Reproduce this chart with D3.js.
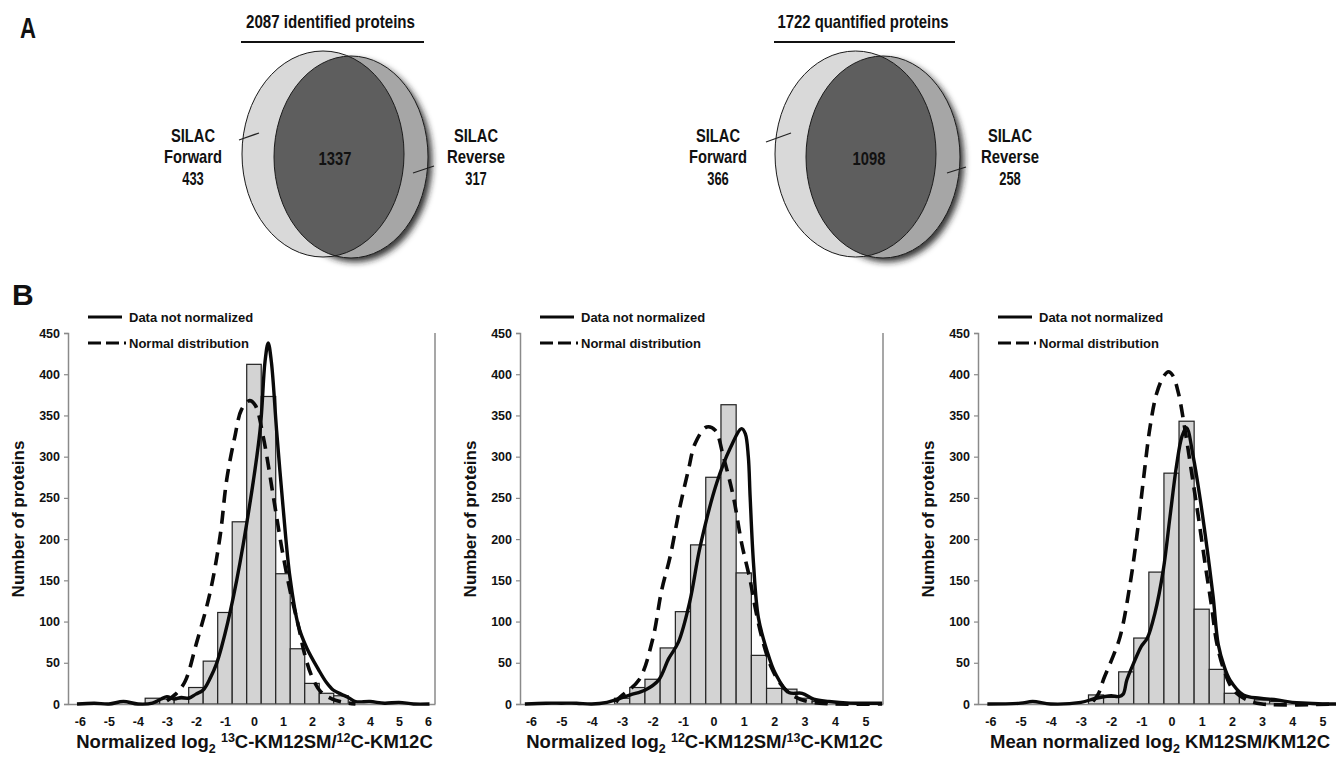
<!DOCTYPE html>
<html><head><meta charset="utf-8">
<script src="https://cdn.jsdelivr.net/npm/d3@7/dist/d3.min.js"></script>
<style>
body{margin:0;background:#fff}
svg{display:block}
text{font-family:"Liberation Sans",Arial,Helvetica,sans-serif;font-weight:bold;fill:#111}
</style>
</head><body>
<svg id="c" width="1336" height="764"></svg>
<script>
// ---------- DATA ----------
const vennTitles = ["2087 identified proteins", "1722 quantified proteins"];
const vennForward = [433, 366];
const vennReverse = [317, 258];
const vennShared = [1337, 1098];

const yTicks = [0, 50, 100, 150, 200, 250, 300, 350, 400, 450];
const xTicks1 = [-6, -5, -4, -3, -2, -1, 0, 1, 2, 3, 4, 5, 6];
const xTicks2 = [-6, -5, -4, -3, -2, -1, 0, 1, 2, 3, 4, 5];
const xTicks3 = [-6, -5, -4, -3, -2, -1, 0, 1, 2, 3, 4, 5];

const bins1 = [-3.5, -3, -2.5, -2, -1.5, -1, -0.5, 0, 0.5, 1, 1.5, 2, 2.5, 3];
const counts1 = [7, 6, 6, 20, 52, 111, 221, 412, 373, 158, 67, 25, 13, 10];
const bins2 = [-3, -2.5, -2, -1.5, -1, -0.5, 0, 0.5, 1, 1.5, 2, 2.5, 3, 3.5];
const counts2 = [7, 20, 30, 68, 112, 193, 275, 363, 159, 59, 19, 18, 7, 3];
const bins3 = [-2.5, -2, -1.5, -1, -0.5, 0, 0.5, 1, 1.5, 2, 2.5, 3, 3.5];
const counts3 = [11, 8, 39, 80, 160, 280, 343, 115, 42, 13, 8, 5, 3];

// "Data not normalized" curves [x, count]
const solid1 = [[-6.1,0],[-5.5,1],[-5.0,0],[-4.5,3],[-4.0,0],[-3.5,1],[-3.2,6],[-3.0,9],[-2.75,6],[-2.5,8],[-2.25,7],[-2.0,12],[-1.75,17],[-1.5,32],[-1.29,49],[-1.11,70],[-0.71,130],[-0.25,219],[0.21,332],[0.38,415],[0.49,438],[0.6,415],[0.78,332],[1.0,240],[1.24,154],[1.53,95],[1.82,68],[2.22,42],[2.5,26],[2.73,17],[3.0,12],[3.25,8],[3.5,3],[4.0,3],[4.5,1],[5.0,2],[5.5,0],[6.05,0]];
const solid2 = [[-6.2,0],[-5.5,1],[-5.0,1],[-4.5,1],[-4.0,0],[-3.5,2],[-3.22,5],[-2.73,11],[-2.24,17],[-1.8,29],[-1.47,55],[-1.15,75],[-0.77,125],[-0.44,190],[0.11,268],[0.55,310],[0.93,334],[1.05,328],[1.15,300],[1.21,251],[1.32,171],[1.48,105],[1.76,65],[2.04,37],[2.48,14],[2.92,13],[3.3,6],[3.8,3],[4.5,1],[5.0,1],[5.55,1]];
const solid3 = [[-6.1,0],[-5.0,1],[-4.6,3],[-4.0,0],[-3.0,2],[-2.5,7],[-2.0,10],[-1.75,9],[-1.6,12],[-1.48,29],[-1.26,49],[-1.0,70],[-0.8,80],[-0.55,110],[-0.27,163],[-0.05,227],[0.17,290],[0.35,325],[0.5,335],[0.72,300],[0.94,251],[1.17,191],[1.38,130],[1.55,72],[1.75,45],[1.94,29],[2.38,11],[2.93,7],[3.5,5],[4.0,2],[4.5,1],[5.0,0],[5.45,0]];

// "Normal distribution" curves [x, count]
const normal1 = [[-3.0,4],[-2.7,12],[-2.38,27],[-1.98,74],[-1.52,134],[-1.17,203],[-0.94,272],[-0.66,324],[-0.43,357],[-0.15,368],[0.05,362],[0.32,324],[0.67,251],[0.95,191],[1.24,138],[1.53,95],[1.75,60],[2.0,33],[2.3,15],[2.7,6],[3.1,2],[3.5,0]];
const normal2 = [[-3.2,2],[-3.11,7],[-2.45,29],[-2.0,78],[-1.7,138],[-1.42,179],[-1.1,239],[-0.82,284],[-0.6,316],[-0.22,336],[0.06,332],[0.33,300],[0.66,251],[0.93,195],[1.21,150],[1.37,118],[1.6,80],[1.9,45],[2.2,25],[2.5,13],[3.0,4],[3.5,1],[4.0,0],[5.55,0]];
const normal3 = [[-2.6,3],[-2.4,14],[-2.26,29],[-2.0,52],[-1.7,82],[-1.37,146],[-1.15,203],[-0.93,272],[-0.71,336],[-0.49,377],[-0.25,398],[-0.1,403],[0.05,398],[0.23,377],[0.45,332],[0.67,280],[0.89,227],[1.11,171],[1.33,118],[1.5,74],[1.75,40],[2.05,17],[2.49,5],[3.0,0],[5.45,0]];

const legendLabels = ["Data not normalized", "Normal distribution"];
const yTitle = "Number of proteins";

// ---------- DRAW ----------
const svg = d3.select("#c");
const defs = svg.append("defs");
const f = defs.append("filter").attr("id","shadow").attr("x","-20%").attr("y","-20%").attr("width","150%").attr("height","150%");
f.append("feDropShadow").attr("dx",4).attr("dy",4).attr("stdDeviation",3).attr("flood-color","#1a1a1a").attr("flood-opacity",0.9);

// Panel letters
svg.append("text").attr("x",20).attr("y",38).attr("font-size",30).attr("textLength",16).attr("lengthAdjust","spacingAndGlyphs").text("A");
svg.append("text").attr("x",12).attr("y",305).attr("font-size",30).text("B");

// Venn diagrams
const vennLayout = [
  {L:{cx:323,cy:154,rx:81,ry:103}, R:{cx:351,cy:157,rx:77,ry:101}, tx:330.5, tw:169, lx0:241, lx1:424,
   fx:193, rxl:476, sx:335, lead:[[239,140,259,133],[413,173,434,166]]},
  {L:{cx:855.5,cy:154,rx:80.5,ry:103}, R:{cx:883,cy:157,rx:77,ry:101}, tx:863, tw:171, lx0:774, lx1:955,
   fx:718, rxl:1010, sx:869, lead:[[766,142,791,133],[947,173,966,167]]}
];
vennLayout.forEach((v,i)=>{
  const g = svg.append("g");
  g.append("text").attr("x",v.tx).attr("y",28).attr("text-anchor","middle").attr("font-size",18.5)
    .attr("textLength",v.tw).attr("lengthAdjust","spacingAndGlyphs").text(vennTitles[i]);
  g.append("line").attr("x1",v.lx0).attr("x2",v.lx1).attr("y1",42).attr("y2",42).attr("stroke","#111").attr("stroke-width",2);
  g.append("ellipse").attr("cx",v.R.cx).attr("cy",v.R.cy).attr("rx",v.R.rx).attr("ry",v.R.ry)
    .attr("fill","#a6a6a6").attr("filter","url(#shadow)");
  g.append("ellipse").attr("cx",v.L.cx).attr("cy",v.L.cy).attr("rx",v.L.rx).attr("ry",v.L.ry).attr("fill","#d9d9d9");
  const cid = "clipL"+i;
  defs.append("clipPath").attr("id",cid).append("ellipse").attr("cx",v.L.cx).attr("cy",v.L.cy).attr("rx",v.L.rx).attr("ry",v.L.ry);
  g.append("ellipse").attr("cx",v.R.cx).attr("cy",v.R.cy).attr("rx",v.R.rx).attr("ry",v.R.ry)
    .attr("fill","#5e5e5e").attr("clip-path","url(#"+cid+")");
  [v.L,v.R].forEach(e=>g.append("ellipse").attr("cx",e.cx).attr("cy",e.cy).attr("rx",e.rx).attr("ry",e.ry)
    .attr("fill","none").attr("stroke","#1a1a1a").attr("stroke-width",1));
  v.lead.forEach(l=>g.append("line").attr("x1",l[0]).attr("y1",l[1]).attr("x2",l[2]).attr("y2",l[3]).attr("stroke","#222").attr("stroke-width",1.3));
  const lab = (x,lines)=>{
    const widths = {SILAC:44, Forward:58, Reverse:58};
    lines.forEach((t,k)=>{
      const s=String(t);
      const w = widths[s] || s.length*7.2;
      g.append("text").attr("x",x).attr("y",141.5+k*21.7).attr("text-anchor","middle").attr("font-size",19)
        .attr("textLength",w).attr("lengthAdjust","spacingAndGlyphs").text(s);
    });
  };
  lab(v.fx,["SILAC","Forward",vennForward[i]]);
  lab(v.rxl,["SILAC","Reverse",vennReverse[i]]);
  g.append("text").attr("x",v.sx).attr("y",165).attr("text-anchor","middle").attr("font-size",19)
    .attr("textLength",String(vennShared[i]).length*8.2).attr("lengthAdjust","spacingAndGlyphs").text(vennShared[i]);
});

// Histogram panels
const panels = [
  {x0:68, x1:435, dom:[-6.41,6.24], ticks:xTicks1, bins:bins1, counts:counts1, solid:solid1, normal:normal1, border:true,
   title:[["Normalized log",0],["2",1],[" ",0],["13",2],["C-KM12SM/",0],["12",2],["C-KM12C",0]]},
  {x0:520, x1:883, dom:[-6.36,5.58], ticks:xTicks2, bins:bins2, counts:counts2, solid:solid2, normal:normal2, border:true,
   title:[["Normalized log",0],["2",1],[" ",0],["12",2],["C-KM12SM/",0],["13",2],["C-KM12C",0]]},
  {x0:978, x1:1336, dom:[-6.41,5.45], ticks:xTicks3, bins:bins3, counts:counts3, solid:solid3, normal:normal3, border:false,
   title:[["Mean normalized log",0],["2",1],[" KM12SM/KM12C",0]]}
];
const y = d3.scaleLinear().domain([0,450]).range([704,333]);
const axisGray = "#8a8a8a";

panels.forEach(p=>{
  const x = d3.scaleLinear().domain(p.dom).range([p.x0,p.x1]);
  const g = svg.append("g");
  g.selectAll("rect.bar").data(p.bins.map((b,i)=>({b,c:p.counts[i]}))).join("rect")
    .attr("x",d=>x(d.b-0.25)).attr("width",d=>x(d.b+0.25)-x(d.b-0.25))
    .attr("y",d=>y(d.c)).attr("height",d=>y(0)-y(d.c))
    .attr("fill","#d3d3d3").attr("stroke","#222").attr("stroke-width",1.2);
  const ya = g.append("g").attr("transform",`translate(${p.x0},0)`)
    .call(d3.axisLeft(y).tickValues(yTicks).tickSize(4).tickPadding(4).tickFormat(d=>String(d)));
  ya.select(".domain").attr("stroke",axisGray).attr("stroke-width",1.5);
  ya.selectAll(".tick line").attr("stroke",axisGray).attr("stroke-width",1.2);
  ya.selectAll(".tick text").attr("font-size",12.5).attr("fill","#111")
    .attr("font-family","Liberation Sans,Arial,sans-serif").attr("font-weight","bold");
  const xa = g.append("g").attr("transform",`translate(0,704)`)
    .call(d3.axisBottom(x).tickValues(p.ticks).tickSize(0).tickPadding(13).tickSizeOuter(0).tickFormat(d=>String(d)));
  xa.select(".domain").attr("stroke",axisGray).attr("stroke-width",1.5);
  xa.selectAll(".tick text").attr("font-size",12.5).attr("fill","#111")
    .attr("font-family","Liberation Sans,Arial,sans-serif").attr("font-weight","bold");
  if(p.border){
    g.append("line").attr("x1",p.x1).attr("x2",p.x1).attr("y1",y(450)).attr("y2",y(0))
      .attr("stroke",axisGray).attr("stroke-width",1.5);
  }
  const line = d3.line().x(d=>x(d[0])).y(d=>y(d[1])).curve(d3.curveCatmullRom.alpha(0.5));
  g.append("path").attr("d",line(p.normal)).attr("fill","none").attr("stroke","#0a0a0a")
    .attr("stroke-width",3.6).attr("stroke-dasharray","13,8");
  g.append("path").attr("d",line(p.solid)).attr("fill","none").attr("stroke","#0a0a0a")
    .attr("stroke-width",3.4).attr("stroke-linejoin","round");
  const lx = p.x0+20;
  g.append("line").attr("x1",lx).attr("x2",lx+34).attr("y1",317).attr("y2",317).attr("stroke","#0a0a0a").attr("stroke-width",3);
  g.append("line").attr("x1",lx).attr("x2",lx+38).attr("y1",343).attr("y2",343).attr("stroke","#0a0a0a").attr("stroke-width",3).attr("stroke-dasharray","13,5");
  g.append("text").attr("x",p.x0+61).attr("y",321.5).attr("font-size",13).text(legendLabels[0]);
  g.append("text").attr("x",p.x0+61).attr("y",347.5).attr("font-size",13).text(legendLabels[1]);
  g.append("text").attr("transform",`translate(${p.x0-44},519) rotate(-90)`).attr("text-anchor","middle")
    .attr("font-size",17).text(yTitle);
  const t = g.append("text").attr("x",(p.x0+p.x1)/2+3).attr("y",748).attr("text-anchor","middle").attr("font-size",18.5);
  let state = 0;
  p.title.forEach(([s,k])=>{
    const ts = t.append("tspan").text(s);
    let target = k===1 ? 5 : (k===2 ? -6.5 : 0);
    ts.attr("dy", target-state);
    state = target;
    if(k) ts.attr("font-size",12.5);
  });
});
</script>
</body></html>
